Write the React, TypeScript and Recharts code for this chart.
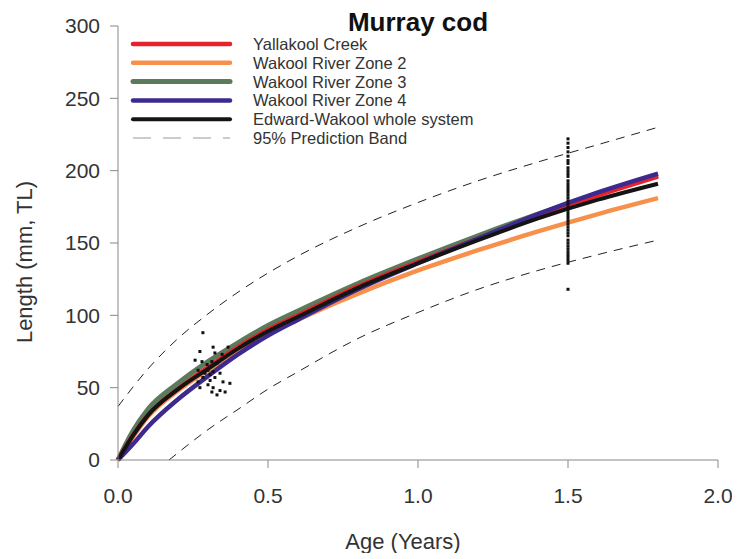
import { ComposedChart, Line, Scatter, XAxis, YAxis } from "recharts";

// growth curves (age in years, length in mm TL)
const ages = [0, 0.05, 0.1, 0.2, 0.3, 0.4, 0.5, 0.6, 0.8, 1.0, 1.2, 1.4, 1.6, 1.8];
const yallakool = [0, 17, 31, 49, 64, 78, 90, 100, 120, 137, 153, 169, 183, 196];
const zone2 = [0, 16, 30, 48, 62, 75, 87, 97, 115, 131, 145, 158, 170, 181];
const zone3 = [0, 20, 35, 53, 68, 81, 93, 103, 122, 139, 155, 170, 184, 197];
const zone4 = [0, 11, 23, 42, 58, 73, 86, 97, 118, 136, 153, 170, 185, 198];
const whole = [0, 17, 31, 49, 63, 77, 89, 99, 119, 136, 152, 167, 180, 191];

// 95% prediction band
const upperAges = [0, 0.1, 0.2, 0.3, 0.4, 0.6, 0.8, 1.0, 1.2, 1.4, 1.6, 1.8];
const upperBand = [37, 63, 84, 101, 116, 141, 161, 178, 193, 206, 218, 230];
const lowerAges = [0.17, 0.2, 0.3, 0.4, 0.5, 0.6, 0.8, 1.0, 1.2, 1.4, 1.6, 1.8];
const lowerBand = [0, 5, 21, 35, 49, 61, 84, 102, 118, 131, 142, 152];

// observed fish
const youngAges = [
  0.283, 0.273, 0.317, 0.323, 0.367, 0.347, 0.28, 0.297, 0.313, 0.33, 0.267,
  0.3, 0.317, 0.34, 0.283, 0.307, 0.323, 0.35, 0.373, 0.267, 0.3, 0.317,
  0.34, 0.33, 0.273, 0.357, 0.313, 0.29, 0.307, 0.257,
];
const youngLengths = [
  88, 75, 78, 74, 78, 73, 68, 66, 68, 67, 62, 62, 61, 60, 57, 55, 57, 54, 53,
  54, 52, 50, 48, 45, 50, 47, 47, 60, 59, 69,
];
const oldLengths = [
  222, 219, 216, 213, 210, 207, 205, 202, 200, 198, 196, 193, 191, 189, 187,
  185, 183, 181, 179, 177, 175, 173, 171, 169, 167, 165, 163, 161, 159, 157,
  155, 152, 150, 148, 146, 144, 142, 140, 138, 136, 118,
];
const oldAge = 1.5;

const xTicks = [0, 0.5, 1, 1.5, 2];
const yTicks = [0, 50, 100, 150, 200, 250, 300];

const series = [
  { name: "Yallakool Creek", values: yallakool, color: "#e8222b", width: 4.5 },
  { name: "Wakool River Zone 2", values: zone2, color: "#f7904a", width: 4.5 },
  { name: "Wakool River Zone 3", values: zone3, color: "#5b7b5c", width: 5 },
  { name: "Wakool River Zone 4", values: zone4, color: "#3e2a8e", width: 4.5 },
  { name: "Edward-Wakool whole system", values: whole, color: "#141414", width: 4 },
];
const drawOrder = [1, 2, 0, 3, 4];

const curveRows = (values: number[]) => ages.map((age, i) => ({ age, len: values[i] }));
const upperRows = upperAges.map((age, i) => ({ age, len: upperBand[i] }));
const lowerRows = lowerAges.map((age, i) => ({ age, len: lowerBand[i] }));
const pointRows = [
  ...youngAges.map((age, i) => ({ age, len: youngLengths[i] })),
  ...oldLengths.map((len) => ({ age: oldAge, len })),
];

const font = "'Liberation Sans', Arial, sans-serif";
const textColor = "#333";

const Dot = (props: any) => (
  <rect x={props.cx - 1.5} y={props.cy - 1.5} width={3} height={3} fill="#111" />
);

export default function App() {
  return (
    <div style={{ position: "relative", width: 730, height: 545, fontFamily: font }}>
      <ComposedChart
        width={730}
        height={545}
        margin={{ top: 18, right: 20, left: 40, bottom: 48 }}
      >
        <XAxis
          type="number"
          dataKey="age"
          domain={[0, 2]}
          ticks={xTicks}
          tickFormatter={(v: number) => v.toFixed(1)}
          allowDuplicatedCategory={false}
          stroke="#888"
          tickSize={8}
          tickMargin={20}
          height={45}
          tick={{ fill: textColor, fontSize: 21, fontFamily: font }}
        />
        <YAxis
          type="number"
          dataKey="len"
          domain={[0, 300]}
          ticks={yTicks}
          stroke="#888"
          tickSize={8}
          tickMargin={10}
          width={70}
          tick={{ fill: textColor, fontSize: 21, fontFamily: font }}
        />
        <Line
          data={upperRows}
          dataKey="len"
          type="monotone"
          stroke="#222"
          strokeWidth={1}
          strokeDasharray="9 7"
          dot={false}
          isAnimationActive={false}
        />
        <Line
          data={lowerRows}
          dataKey="len"
          type="monotone"
          stroke="#222"
          strokeWidth={1}
          strokeDasharray="9 7"
          dot={false}
          isAnimationActive={false}
        />
        {drawOrder.map((k) => (
          <Line
            key={series[k].name}
            data={curveRows(series[k].values)}
            dataKey="len"
            type="monotone"
            stroke={series[k].color}
            strokeWidth={series[k].width}
            dot={false}
            isAnimationActive={false}
          />
        ))}
        <Scatter data={pointRows} dataKey="len" shape={Dot} isAnimationActive={false} />
      </ComposedChart>

      <svg
        width={730}
        height={551}
        style={{ position: "absolute", left: 0, top: 0, pointerEvents: "none", overflow: "visible" }}
      >
        <text x={410} y={23} textAnchor="middle" fontSize={26} fontWeight="bold" fill="#111">
          Murray cod
        </text>
        {series.map((s, i) => (
          <g key={s.name}>
            <line
              x1={125}
              x2={222}
              y1={36 + i * 18.8}
              y2={36 + i * 18.8}
              stroke={s.color}
              strokeWidth={s.width}
              strokeLinecap="round"
            />
            <text x={245} y={36 + i * 18.8 + 6} fontSize={16.5} fill={textColor}>
              {s.name}
            </text>
          </g>
        ))}
        <line
          x1={125}
          x2={222}
          y1={130}
          y2={130}
          stroke="#999"
          strokeWidth={1}
          strokeDasharray="18 12"
        />
        <text x={245} y={136} fontSize={16.5} fill={textColor}>
          95% Prediction Band
        </text>
        <text x={395} y={541} textAnchor="middle" fontSize={22} fill={textColor}>
          Age (Years)
        </text>
        <text
          x={0}
          y={0}
          transform="translate(24 254) rotate(-90)"
          textAnchor="middle"
          fontSize={22}
          fill={textColor}
        >
          Length (mm, TL)
        </text>
      </svg>
    </div>
  );
}
